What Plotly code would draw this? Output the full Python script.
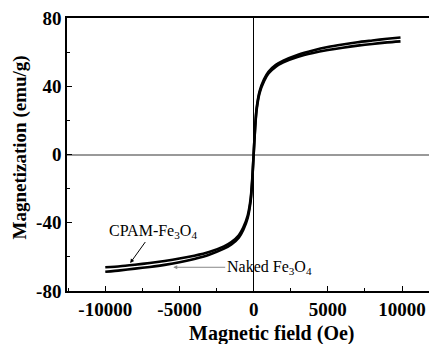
import plotly.graph_objects as go

# Applied field (Oe)
field = [-10000, -9000, -8000, -7000, -6000, -5000, -4000, -3000, -2000, -1500, -1000,
         -700, -400, -200, -100, 0, 100, 200, 400, 700, 1000, 1500, 2000, 3000, 4000,
         5000, 6000, 7000, 8000, 9000, 9900]

# Magnetization (emu/g)
naked_fe3o4 = [-68.7, -67.9, -66.9, -65.9, -64.7, -63.2, -61.2, -58.7, -55.2, -52.7, -48.7,
               -44.2, -37.2, -27.2, -16.2, 0, 16.0, 27.0, 37.0, 44.0, 48.5, 52.5, 55.0, 58.5, 61.0,
               63.0, 64.5, 65.8, 66.8, 67.8, 68.6]
cpam_fe3o4 = [-66.1, -65.5, -64.6, -63.6, -62.4, -61.0, -59.3, -57.1, -53.8, -51.3, -47.3,
              -42.8, -35.8, -25.8, -15.3, 0, 15.5, 26.0, 36.0, 43.0, 47.5, 51.5, 54.0, 57.3, 59.5,
              61.2, 62.6, 63.8, 64.8, 65.7, 66.3]

x_ticks = [-10000, -5000, 0, 5000, 10000]
y_ticks = [-80, -40, 0, 40, 80]

FONT = "Liberation Serif, Times New Roman, Times, serif"

fig = go.Figure()
fig.add_trace(go.Scatter(x=field, y=naked_fe3o4, mode="lines", name="Naked Fe3O4",
                         line=dict(color="black", width=2.6, shape="spline", smoothing=0.6)))
fig.add_trace(go.Scatter(x=field, y=cpam_fe3o4, mode="lines", name="CPAM-Fe3O4",
                         line=dict(color="black", width=2.6, shape="spline", smoothing=0.6)))

fig.update_layout(
    width=429, height=344,
    margin=dict(l=67, r=0, t=18, b=53, autoexpand=False),
    paper_bgcolor="white", plot_bgcolor="white",
    showlegend=False,
    font=dict(family=FONT, color="black"),
)

fig.update_xaxes(
    range=[-12580, 11820], automargin=False,
    tickvals=x_ticks, ticktext=["<b>%d</b>" % v for v in x_ticks],
    ticks="inside", ticklen=5, tickwidth=1, tickcolor="black",
    minor=dict(dtick=2500, tick0=0, ticks="inside", ticklen=3, tickcolor="black"),
    showline=True, linecolor="black", linewidth=1.5, mirror=True,
    showgrid=False,
    zeroline=True, zerolinecolor="black", zerolinewidth=1,
    tickfont=dict(family=FONT, size=19, color="black"),
)
fig.update_yaxes(
    range=[-80, 80], automargin=False,
    tickvals=y_ticks, ticktext=["<b>%d</b>" % v for v in y_ticks],
    ticks="inside", ticklen=5, tickwidth=1, tickcolor="black",
    minor=dict(dtick=20, tick0=0, ticks="inside", ticklen=3, tickcolor="black"),
    showline=True, linecolor="black", linewidth=1.5, mirror=False,
    showgrid=False,
    zeroline=True, zerolinecolor="#999999", zerolinewidth=1.5,
    tickfont=dict(family=FONT, size=19, color="black"),
)

# Axis titles
fig.add_annotation(
    xref="paper", yref="paper",
    x=(272 - 67) / (429 - 67), y=-(334 - 291) / (291 - 18),
    xanchor="center", yanchor="middle", showarrow=False,
    text="<b>Magnetic field (Oe)</b>", font=dict(family=FONT, size=20, color="black"),
)
fig.add_annotation(
    xref="paper", yref="paper", x=-(67 - 19) / (429 - 67), y=(291 - 147.5) / (291 - 18),
    xanchor="center", yanchor="middle", showarrow=False, textangle=-90,
    text="<b>Magnetization (emu/g)</b>", font=dict(family=FONT, size=19, color="black"),
)

fig.add_annotation(
    x=-8320, y=-63.6, xref="x", yref="y",
    text="CPAM-Fe<sub>3</sub>O<sub>4</sub>",
    showarrow=True, ax=23, ay=-32, arrowhead=2, arrowsize=0.8, arrowwidth=1,
    arrowcolor="black", font=dict(family=FONT, size=16, color="black"),
)
fig.add_annotation(
    x=-5420, y=-66.1, xref="x", yref="y",
    text="Naked Fe<sub>3</sub>O<sub>4</sub>",
    showarrow=True, ax=96, ay=0, arrowhead=2, arrowsize=0.8, arrowwidth=1,
    arrowcolor="#888888", font=dict(family=FONT, size=16, color="black"),
)

fig.write_html(
    "out.html",
    config={"displayModeBar": False},
    post_script="document.body.style.margin='0';document.body.style.overflow='hidden';",
)
